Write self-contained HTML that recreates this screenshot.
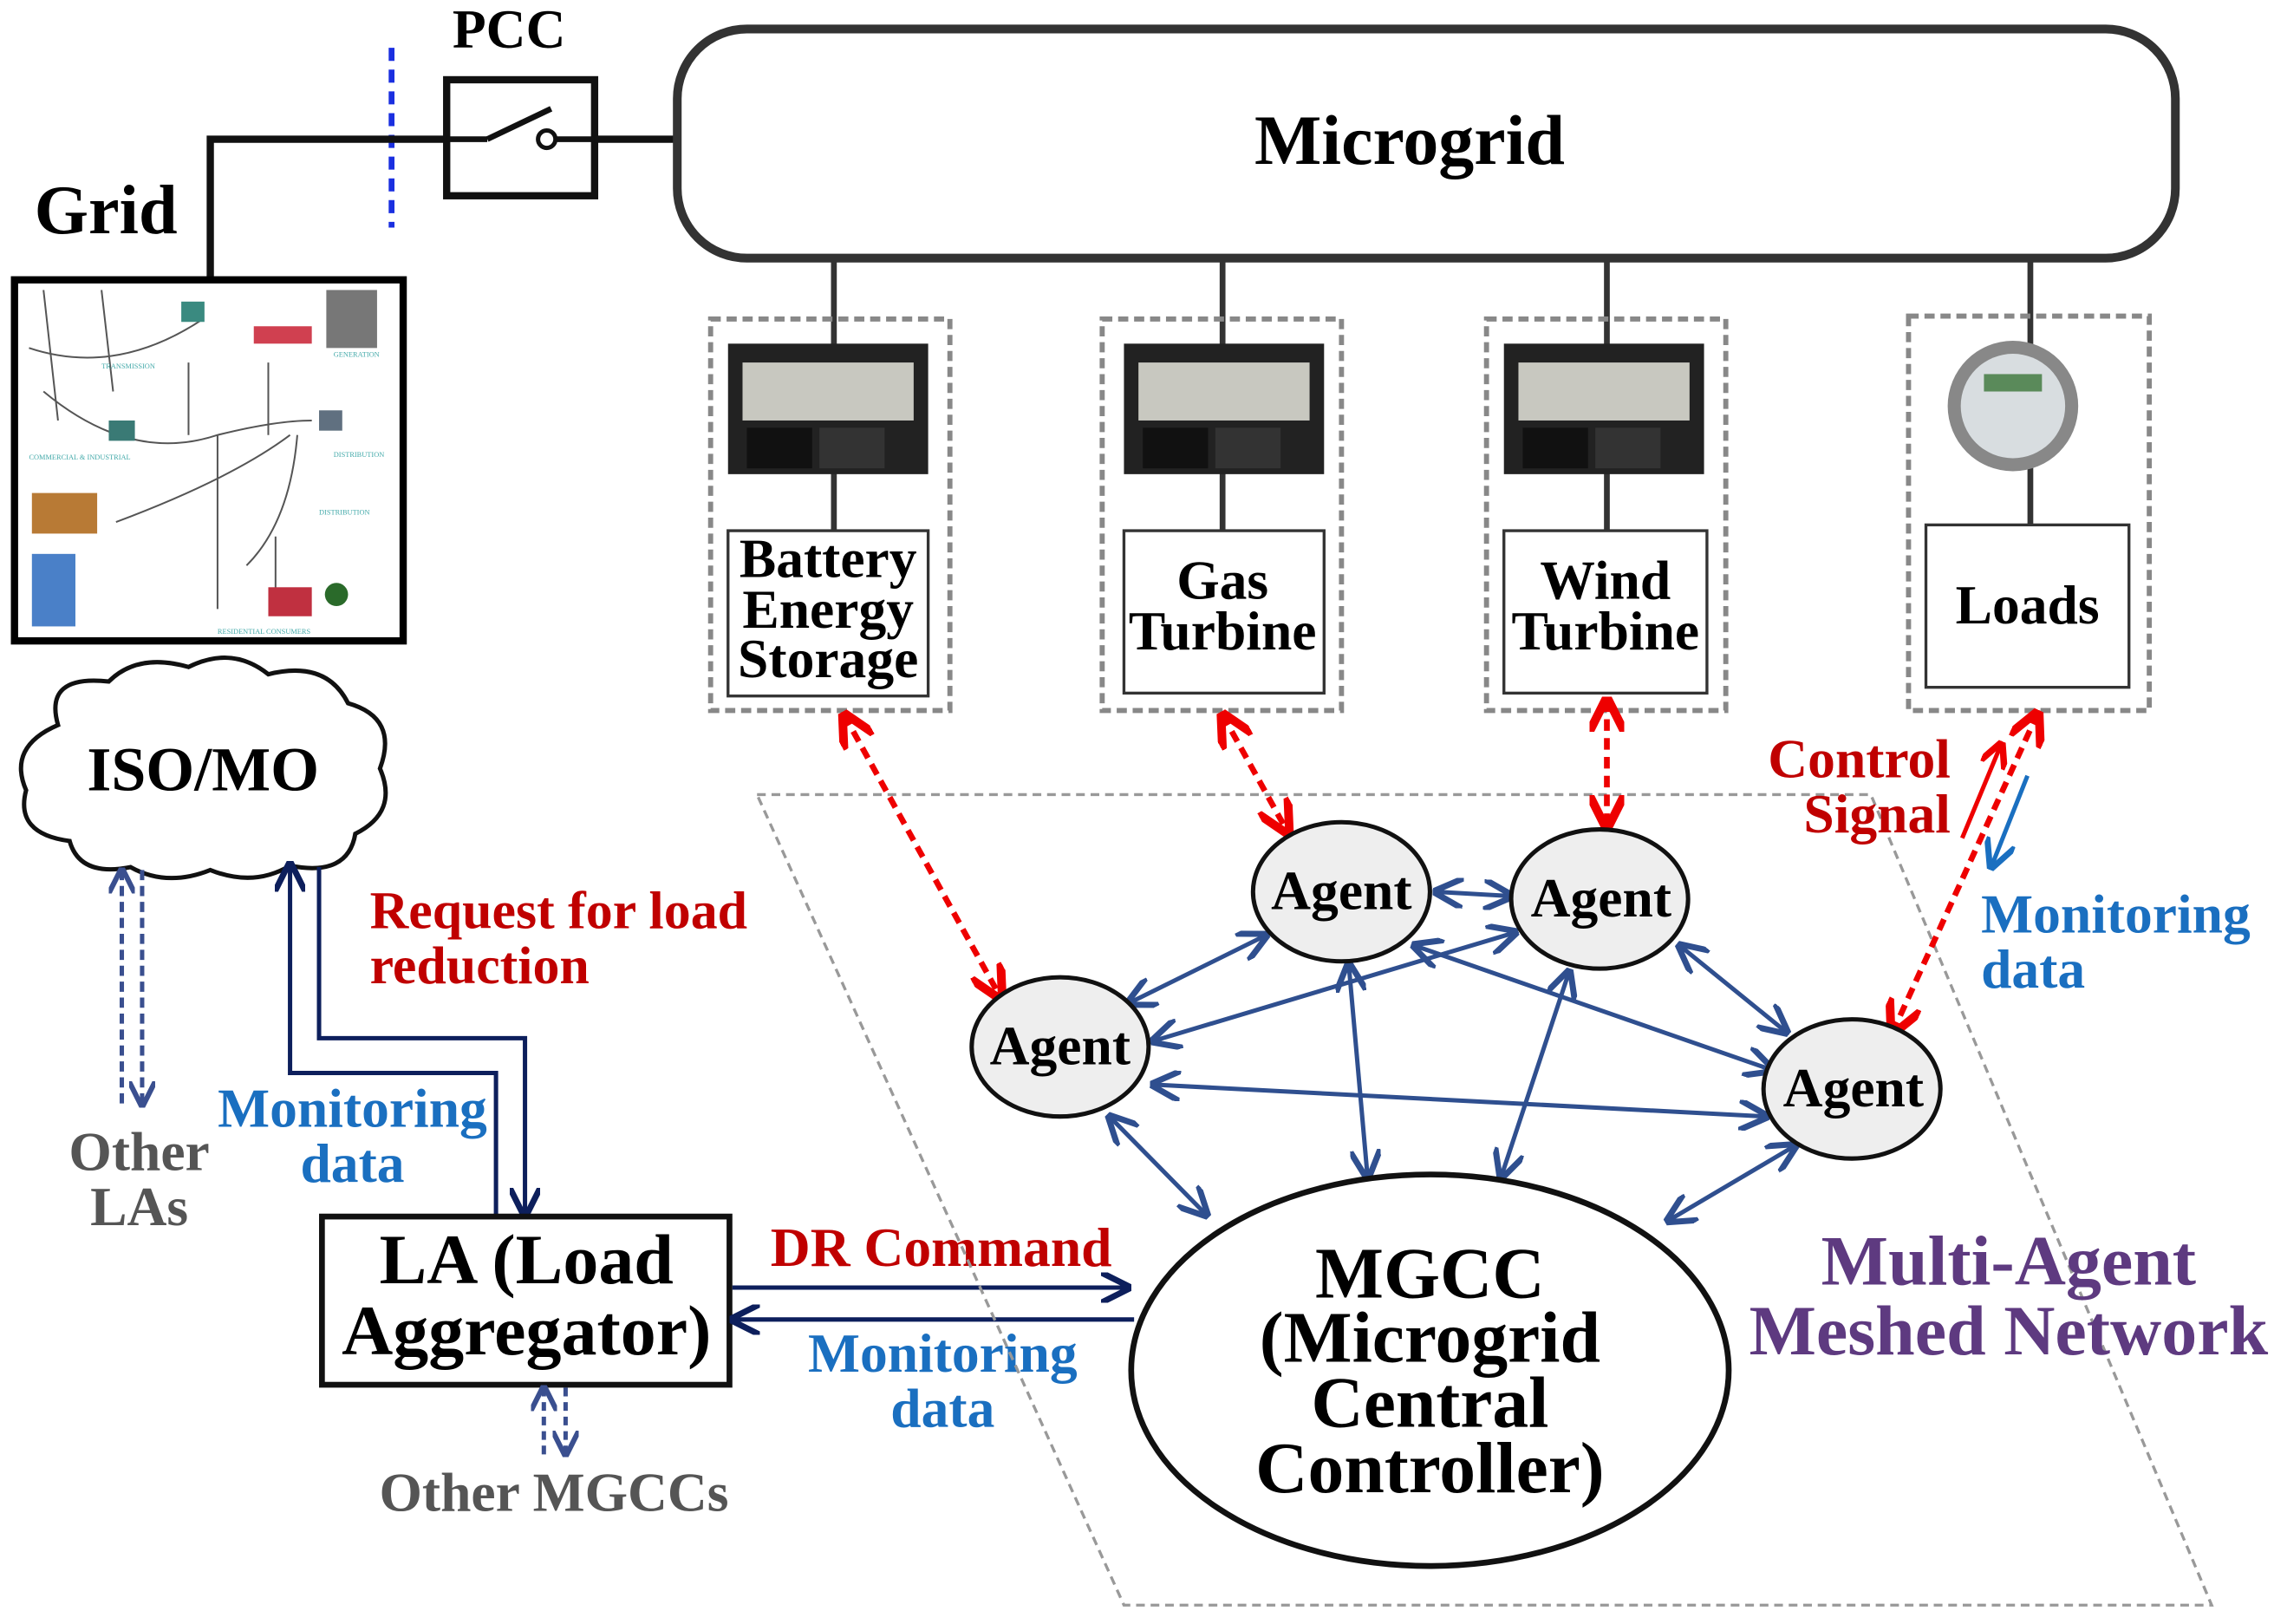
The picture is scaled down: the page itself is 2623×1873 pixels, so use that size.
<!DOCTYPE html>
<html><head><meta charset="utf-8"><style>
html,body{margin:0;padding:0;background:#fff}
svg{display:block}
text{font-family:"Liberation Serif",serif;font-weight:bold}
</style></head><body>
<svg width="2623" height="1873" viewBox="0 0 1568 1120" preserveAspectRatio="none" xmlns="http://www.w3.org/2000/svg">
<defs>
<marker id="bl" viewBox="0 0 10 10" refX="9" refY="5" markerWidth="7" markerHeight="7" orient="auto-start-reverse"><path d="M0,0 L10,5 L0,10" fill="none" stroke="#2f4f8f" stroke-width="2"/></marker>
<marker id="nv" viewBox="0 0 10 10" refX="9" refY="5" markerWidth="7" markerHeight="7" orient="auto-start-reverse"><path d="M0,0 L10,5 L0,10" fill="none" stroke="#0d1f5c" stroke-width="2"/></marker>
<marker id="rd" viewBox="0 0 10 10" refX="9" refY="5" markerWidth="6" markerHeight="6" orient="auto-start-reverse"><path d="M0,0 L10,5 L0,10" fill="none" stroke="#e00" stroke-width="2.5"/></marker>
<marker id="lb" viewBox="0 0 10 10" refX="9" refY="5" markerWidth="7" markerHeight="7" orient="auto-start-reverse"><path d="M0,0 L10,5 L0,10" fill="none" stroke="#1a6fc0" stroke-width="2"/></marker>
<marker id="dv" viewBox="0 0 10 10" refX="9" refY="5" markerWidth="6" markerHeight="6" orient="auto-start-reverse"><path d="M0,0 L10,5 L0,10" fill="none" stroke="#3a4f8f" stroke-width="2"/></marker>
</defs>

<!-- Grid / PCC -->
<text x="351" y="33" font-size="38" text-anchor="middle">PCC</text>
<line x1="270" y1="33" x2="270" y2="157" stroke="#1a2fe0" stroke-width="4" stroke-dasharray="9,6"/>
<polyline points="145,192 145,96 307,96" fill="none" stroke="#111" stroke-width="5"/>
<rect x="308" y="55" width="102" height="80" fill="#fff" stroke="#111" stroke-width="5"/>
<line x1="410" y1="96" x2="466" y2="96" stroke="#111" stroke-width="5"/>
<line x1="308" y1="96" x2="336" y2="96" stroke="#111" stroke-width="4"/>
<line x1="336" y1="96" x2="380" y2="75" stroke="#111" stroke-width="4"/>
<circle cx="377" cy="96" r="6" fill="#fff" stroke="#111" stroke-width="3"/>
<line x1="383" y1="96" x2="410" y2="96" stroke="#111" stroke-width="4"/>
<text x="73" y="161" font-size="48" text-anchor="middle">Grid</text>

<rect x="10" y="193" width="268" height="249" fill="#fff" stroke="#000" stroke-width="5"/>
<g stroke="#555" stroke-width="1.2" fill="none">
<path d="M30,200 L40,290 M70,200 L78,270 M20,240 Q80,260 140,220 M30,270 Q90,320 150,300 Q190,290 215,290"/>
<path d="M130,250 L130,300 M185,250 L185,300 M150,300 L150,420 M190,370 L190,420 M200,300 Q160,330 80,360 M205,300 Q200,360 170,390"/>
</g>
<rect x="125" y="208" width="16" height="14" fill="#3a8a80"/>
<rect x="175" y="225" width="40" height="12" fill="#d04050"/>
<rect x="225" y="200" width="35" height="40" fill="#777"/>
<rect x="75" y="290" width="18" height="14" fill="#3a7a75"/>
<rect x="220" y="283" width="16" height="14" fill="#607080"/>
<rect x="22" y="340" width="45" height="28" fill="#b87a35"/>
<rect x="22" y="382" width="30" height="50" fill="#4a80c8"/>
<rect x="185" y="405" width="30" height="20" fill="#c03040"/>
<circle cx="232" cy="410" r="8" fill="#2a6a2a"/>
<g font-size="5" fill="#4aa">
<text x="230" y="246" style="font-weight:normal">GENERATION</text><text x="70" y="254" style="font-weight:normal">TRANSMISSION</text>
<text x="20" y="317" style="font-weight:normal">COMMERCIAL &amp; INDUSTRIAL</text><text x="230" y="315" style="font-weight:normal">DISTRIBUTION</text>
<text x="220" y="355" style="font-weight:normal">DISTRIBUTION</text><text x="150" y="437" style="font-weight:normal">RESIDENTIAL CONSUMERS</text>
</g>

<!-- Microgrid -->
<rect x="467" y="20" width="1033" height="158" rx="48" fill="#fff" stroke="#333" stroke-width="6"/>
<text x="972" y="113" font-size="49" text-anchor="middle">Microgrid</text>

<!-- Columns -->
<g stroke="#333" stroke-width="4">
<line x1="575" y1="180" x2="575" y2="366"/><line x1="843" y1="180" x2="843" y2="366"/>
<line x1="1108" y1="180" x2="1108" y2="366"/><line x1="1400" y1="180" x2="1400" y2="362"/>
</g>
<g fill="none" stroke="#888" stroke-width="3.5" stroke-dasharray="7,4">
<rect x="490" y="220" width="165" height="270"/><rect x="760" y="220" width="165" height="270"/>
<rect x="1025" y="220" width="165" height="270"/><rect x="1316" y="218" width="166" height="272"/>
</g>
<g>
<rect x="502" y="237" width="138" height="90" fill="#222"/><rect x="512" y="250" width="118" height="40" fill="#c8c8c0"/><rect x="515" y="295" width="45" height="28" fill="#111"/><rect x="565" y="295" width="45" height="28" fill="#333"/>
<rect x="775" y="237" width="138" height="90" fill="#222"/><rect x="785" y="250" width="118" height="40" fill="#c8c8c0"/><rect x="788" y="295" width="45" height="28" fill="#111"/><rect x="838" y="295" width="45" height="28" fill="#333"/>
<rect x="1037" y="237" width="138" height="90" fill="#222"/><rect x="1047" y="250" width="118" height="40" fill="#c8c8c0"/><rect x="1050" y="295" width="45" height="28" fill="#111"/><rect x="1100" y="295" width="45" height="28" fill="#333"/>
<circle cx="1388" cy="280" r="45" fill="#888"/><circle cx="1388" cy="280" r="36" fill="#d8dde0"/><rect x="1368" y="258" width="40" height="12" fill="#5a8a5a"/>
</g>
<g fill="#fff" stroke="#333" stroke-width="2">
<rect x="502" y="366" width="138" height="114"/><rect x="775" y="366" width="138" height="112"/>
<rect x="1037" y="366" width="140" height="112"/><rect x="1328" y="362" width="140" height="112"/>
</g>
<g font-size="38" text-anchor="middle">
<text x="571" y="398">Battery</text><text x="571" y="433">Energy</text><text x="571" y="467">Storage</text>
<text x="843" y="413">Gas</text><text x="843" y="448">Turbine</text>
<text x="1107" y="413">Wind</text><text x="1107" y="448">Turbine</text>
<text x="1398" y="430">Loads</text>
</g>

<!-- ISO/MO cloud -->
<path d="M40,500 Q30,465 75,470 Q95,450 130,460 Q160,445 185,465 Q225,455 240,485 Q275,495 262,530 Q275,560 245,575 Q240,605 200,597 Q175,612 145,600 Q115,612 90,598 Q55,605 48,580 Q10,575 18,545 Q5,515 40,500 Z" fill="#fff" stroke="#111" stroke-width="3"/>
<text x="140" y="545" font-size="43" text-anchor="middle">ISO/MO</text>

<!-- Other LAs -->
<line x1="84" y1="600" x2="84" y2="762" stroke="#3a4f8f" stroke-width="3" stroke-dasharray="7,4" marker-start="url(#dv)"/>
<line x1="98" y1="600" x2="98" y2="762" stroke="#3a4f8f" stroke-width="3" stroke-dasharray="7,4" marker-end="url(#dv)"/>
<text x="96" y="807" font-size="38" fill="#555" text-anchor="middle">Other</text>
<text x="96" y="845" font-size="38" fill="#555" text-anchor="middle">LAs</text>

<!-- ISO-LA arrows -->
<polyline points="342,838 342,740 200,740 200,596" fill="none" stroke="#0d1f5c" stroke-width="3" marker-end="url(#nv)"/>
<polyline points="220,598 220,716 362,716 362,838" fill="none" stroke="#0d1f5c" stroke-width="3" marker-end="url(#nv)"/>
<text x="255" y="640" font-size="37" fill="#c00000">Request for load</text>
<text x="255" y="678" font-size="37" fill="#c00000">reduction</text>
<text x="243" y="777" font-size="38" fill="#1a6fc0" text-anchor="middle">Monitoring</text>
<text x="243" y="815" font-size="38" fill="#1a6fc0" text-anchor="middle">data</text>

<!-- LA -->
<rect x="222" y="839" width="281" height="116" fill="#fff" stroke="#111" stroke-width="4"/>
<text x="363" y="885" font-size="49" text-anchor="middle">LA (Load</text>
<text x="363" y="934" font-size="49" text-anchor="middle">Aggregator)</text>
<line x1="375" y1="957" x2="375" y2="1003" stroke="#3a4f8f" stroke-width="3" stroke-dasharray="6,4" marker-start="url(#dv)"/>
<line x1="390" y1="957" x2="390" y2="1003" stroke="#3a4f8f" stroke-width="3" stroke-dasharray="6,4" marker-end="url(#dv)"/>
<text x="382" y="1042" font-size="38" fill="#555" text-anchor="middle">Other MGCCs</text>

<line x1="505" y1="888" x2="778" y2="888" stroke="#0d1f5c" stroke-width="3" marker-end="url(#nv)"/>
<line x1="782" y1="910" x2="505" y2="910" stroke="#0d1f5c" stroke-width="3" marker-end="url(#nv)"/>
<text x="649" y="873" font-size="38" fill="#c00000" text-anchor="middle">DR Command</text>
<text x="650" y="946" font-size="38" fill="#1a6fc0" text-anchor="middle">Monitoring</text>
<text x="650" y="984" font-size="38" fill="#1a6fc0" text-anchor="middle">data</text>

<!-- Parallelogram -->
<polygon points="522,548 1290,548 1525,1107 775,1107" fill="none" stroke="#999" stroke-width="2" stroke-dasharray="6,4"/>

<!-- mesh arrows -->
<g stroke="#2f4f8f" stroke-width="3" fill="none" marker-start="url(#bl)" marker-end="url(#bl)">
<line x1="990" y1="615" x2="1042" y2="618"/>
<line x1="778" y1="692" x2="873" y2="645"/>
<line x1="795" y1="718" x2="1045" y2="643"/>
<line x1="975" y1="652" x2="1222" y2="738"/>
<line x1="1158" y1="652" x2="1232" y2="712"/>
<line x1="795" y1="748" x2="1218" y2="770"/>
<line x1="930" y1="665" x2="943" y2="812"/>
<line x1="1082" y1="670" x2="1035" y2="812"/>
<line x1="765" y1="770" x2="832" y2="838"/>
<line x1="1238" y1="790" x2="1150" y2="842"/>
</g>

<!-- red control arrows -->
<g stroke="#e00" stroke-width="4" fill="none" stroke-dasharray="8,5" marker-start="url(#rd)" marker-end="url(#rd)">
<line x1="582" y1="493" x2="690" y2="688"/>
<line x1="843" y1="493" x2="888" y2="574"/>
<line x1="1108" y1="483" x2="1108" y2="570"/>
<line x1="1405" y1="492" x2="1305" y2="712"/>
</g>
<line x1="1353" y1="578" x2="1380" y2="513" stroke="#e00" stroke-width="3" marker-end="url(#rd)"/>
<line x1="1398" y1="535" x2="1373" y2="598" stroke="#1a6fc0" stroke-width="3" marker-end="url(#lb)"/>
<text x="1345" y="536" font-size="38" fill="#c00000" text-anchor="end">Control</text>
<text x="1345" y="574" font-size="38" fill="#c00000" text-anchor="end">Signal</text>
<text x="1366" y="643" font-size="38" fill="#1a6fc0">Monitoring</text>
<text x="1366" y="681" font-size="38" fill="#1a6fc0">data</text>

<!-- Agents -->
<g fill="#eee" stroke="#111" stroke-width="3">
<ellipse cx="925" cy="615" rx="61" ry="48"/><ellipse cx="1103" cy="620" rx="61" ry="48"/>
<ellipse cx="731" cy="722" rx="61" ry="48"/><ellipse cx="1277" cy="751" rx="61" ry="48"/>
</g>
<g font-size="38" text-anchor="middle">
<text x="925" y="627">Agent</text><text x="1104" y="632">Agent</text>
<text x="731" y="734">Agent</text><text x="1278" y="763">Agent</text>
</g>

<!-- MGCC -->
<ellipse cx="986" cy="945" rx="206" ry="135" fill="#fff" stroke="#111" stroke-width="4"/>
<g font-size="50" text-anchor="middle">
<text x="986" y="895">MGCC</text><text x="986" y="939">(Microgrid</text>
<text x="986" y="984">Central</text><text x="986" y="1029">Controller)</text>
</g>
<text x="1385" y="886" font-size="49" fill="#5e3a80" text-anchor="middle">Multi-Agent</text>
<text x="1385" y="934" font-size="49" fill="#5e3a80" text-anchor="middle">Meshed Network</text>
</svg>
</body></html>
